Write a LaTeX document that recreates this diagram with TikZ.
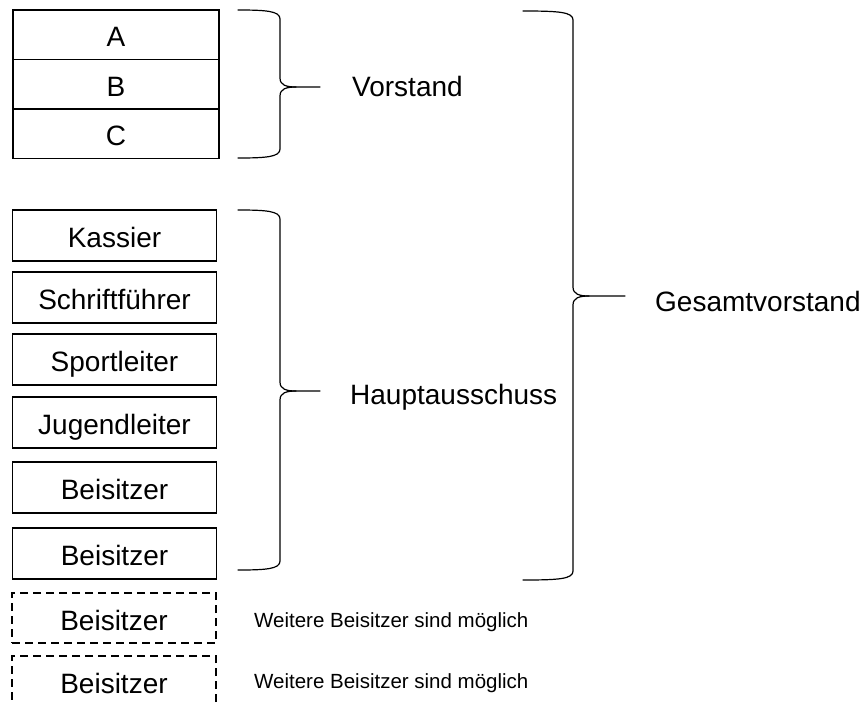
\documentclass[tikz,border=0pt]{standalone}
\usepackage{fontspec}
\setmainfont{Liberation Sans}
\newcommand\groupbrace[7]{% name xl xv xt ytop ymid ybot
  \draw[bracelinestyle] (#2,#5) .. controls ({#3-14},#5) and (#3,{#5+1}) .. (#3,{#5+9})
     -- (#3,{#6-9}) .. controls (#3,{#6-2}) and ({#3+6},#6) .. ({#3+16},#6) -- (#4,#6) coordinate (#1);
  \draw[bracelinestyle] ({#3+16},#6) .. controls ({#3+6},#6) and (#3,{#6+2}) .. (#3,{#6+9})
     -- (#3,{#7-9}) .. controls (#3,{#7-1}) and ({#3-14},#7) .. (#2,#7);
}
\tikzset{
  member/.style={draw, line width=1.3pt, minimum width=204pt, minimum height=51pt,
    inner sep=0pt, text height=30pt, text depth=6pt, font=\fontsize{28}{32}\selectfont},
  topmember/.style={member, minimum width=206pt, minimum height=49.5pt},
  optmember/.style={member, minimum height=50pt, line width=1.1pt, dash pattern=on 8pt off 5pt},
  grouplabel/.style={anchor=base west, inner sep=0pt, font=\fontsize{28}{32}\selectfont},
  note/.style={anchor=base west, inner sep=0pt, font=\fontsize{20.5}{24}\selectfont},
  bracelinestyle/.style={line width=1.2pt, line cap=round}
}
\begin{document}
\begin{tikzpicture}[x=1pt,y=-1pt]
\useasboundingbox (0,0) rectangle (866,704);
\clip (0,0) rectangle (866,704);
\fill[white] (0,0) rectangle (866,704);
% Vorstand boxes
\node[topmember] (a) at (116,34.75) {A};
\node[topmember] (b) at (116,84.25) {B};
\node[topmember] (c) at (116,133.75) {C};
% Hauptausschuss boxes
\node[member] (kassier) at (114.5,235.5) {Kassier};
\node[member] (schrift) at (114.5,297.5) {Schriftführer};
\node[member] (sport) at (114.5,359.5) {Sportleiter};
\node[member] (jugend) at (114.5,422.5) {Jugendleiter};
\node[member] (beis1) at (114.5,487.5) {Beisitzer};
\node[member] (beis2) at (114.5,553.5) {Beisitzer};
% optional boxes
\node[optmember] (beis3) at (114,618) {Beisitzer};
\node[optmember] (beis4) at (114,681) {Beisitzer};
\node[note] (note3) at (254,627.5) {Weitere Beisitzer sind möglich};
\node[note] (note4) at (254,688) {Weitere Beisitzer sind möglich};
% braces
\groupbrace{vtip}{238}{280}{320}{10}{87}{158}
\groupbrace{htip}{238}{280}{320}{210}{391}{570}
\groupbrace{gtip}{523}{573}{625}{11}{296}{580}
% labels
\node[grouplabel] (vorstand) at (352,96) {Vorstand};
\node[grouplabel] (haupt) at (350,404) {Hauptausschuss};
\node[grouplabel] (gesamt) at (655,311) {Gesamtvorstand};
\end{tikzpicture}
\end{document}
